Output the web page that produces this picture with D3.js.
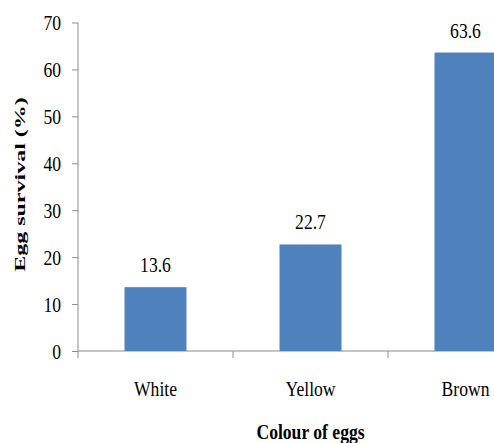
<!DOCTYPE html>
<html>
<head>
<meta charset="utf-8">
<script src="https://cdn.jsdelivr.net/npm/d3@7"></script>
<style>
  html, body { margin: 0; padding: 0; background: #fff; }
  svg text { font-family: "Liberation Serif", "Times New Roman", Times, serif !important; }
</style>
</head>
<body>
<svg id="chart" width="494" height="443"></svg>
<script>
const categories = ["White", "Yellow", "Brown"];
const survival = [13.6, 22.7, 63.6];
const yTicks = [0, 10, 20, 30, 40, 50, 60, 70];
const yTitle = "Egg survival (%)";
const xTitle = "Colour of eggs";

const FONT = "Liberation Serif, Times New Roman, serif";
const svg = d3.select("#chart");
const axisColor = "#8c8c8c";
const barColor = "#4f81bd";
const SX = 0.8; // horizontal condensation of text

const y = d3.scaleLinear().domain([0, 70]).range([351, 22.5]);
const x = d3.scaleBand().domain(categories).range([78, 543])
  .paddingInner(0.6).paddingOuter(0.3);

// Y axis
const yAxis = svg.append("g").attr("transform", "translate(78,0)")
  .call(d3.axisLeft(y).tickValues(yTicks).tickSize(6).tickSizeOuter(0).tickFormat(d3.format("d")));
yAxis.attr("font-family", FONT);
yAxis.select(".domain").remove();
yAxis.selectAll(".tick line").attr("stroke", axisColor);
yAxis.selectAll(".tick text")
  .attr("x", -17 / SX)
  .attr("dy", "0.34em")
  .attr("transform", `scale(${SX},1)`)
  .attr("font-size", 22)
  .attr("font-family", FONT)
  .attr("fill", "#000");
svg.append("line")
  .attr("x1", 78).attr("x2", 78)
  .attr("y1", y(70)).attr("y2", 358)
  .attr("stroke", axisColor);

// X axis
const xAxis = svg.append("g").attr("transform", `translate(0,${y(0)})`)
  .call(d3.axisBottom(x).tickSize(0).tickSizeOuter(0));
xAxis.select(".domain").remove();
xAxis.selectAll(".tick text").remove();
svg.append("line")
  .attr("x1", 78).attr("x2", 543)
  .attr("y1", y(0)).attr("y2", y(0))
  .attr("stroke", axisColor);
const bounds = categories.map(c => x(c) - x.step() * x.paddingOuter()).concat([x.range()[1]]);
svg.append("g").selectAll("line").data(bounds.slice(1)).join("line")
  .attr("x1", d => d).attr("x2", d => d)
  .attr("y1", y(0)).attr("y2", y(0) + 7)
  .attr("stroke", axisColor);

// category labels
svg.append("g").selectAll("text").data(categories).join("text")
  .attr("transform", d => `translate(${x(d) + x.bandwidth() / 2},396) scale(${SX},1)`)
  .attr("text-anchor", "middle")
  .attr("font-family", FONT)
  .attr("font-size", 22)
  .attr("fill", "#000")
  .text(d => d);

// Bars
const data = categories.map((c, i) => ({ c, v: survival[i] }));
svg.append("g").selectAll("rect").data(data).join("rect")
  .attr("x", d => x(d.c))
  .attr("width", x.bandwidth())
  .attr("y", d => y(d.v))
  .attr("height", d => y(0) - y(d.v))
  .attr("fill", barColor);

// Value labels
svg.append("g").selectAll("text").data(data).join("text")
  .attr("transform", d => `translate(${x(d.c) + x.bandwidth() / 2},${y(d.v) - 15}) scale(${SX},1)`)
  .attr("text-anchor", "middle")
  .attr("font-family", FONT)
  .attr("font-size", 22)
  .attr("fill", "#000")
  .text(d => d.v.toFixed(1));

// Axis titles
svg.append("text")
  .attr("transform", `translate(24.5,184.5) rotate(-90) scale(1,0.62)`)
  .attr("text-anchor", "middle")
  .attr("font-family", FONT)
  .attr("font-size", 24)
  .attr("font-weight", "bold")
  .attr("fill", "#000")
  .text(yTitle);

svg.append("text")
  .attr("transform", `translate(310.5,439) scale(${SX},1)`)
  .attr("text-anchor", "middle")
  .attr("font-family", FONT)
  .attr("font-size", 22)
  .attr("font-weight", "bold")
  .attr("fill", "#000")
  .text(xTitle);
</script>
</body>
</html>
